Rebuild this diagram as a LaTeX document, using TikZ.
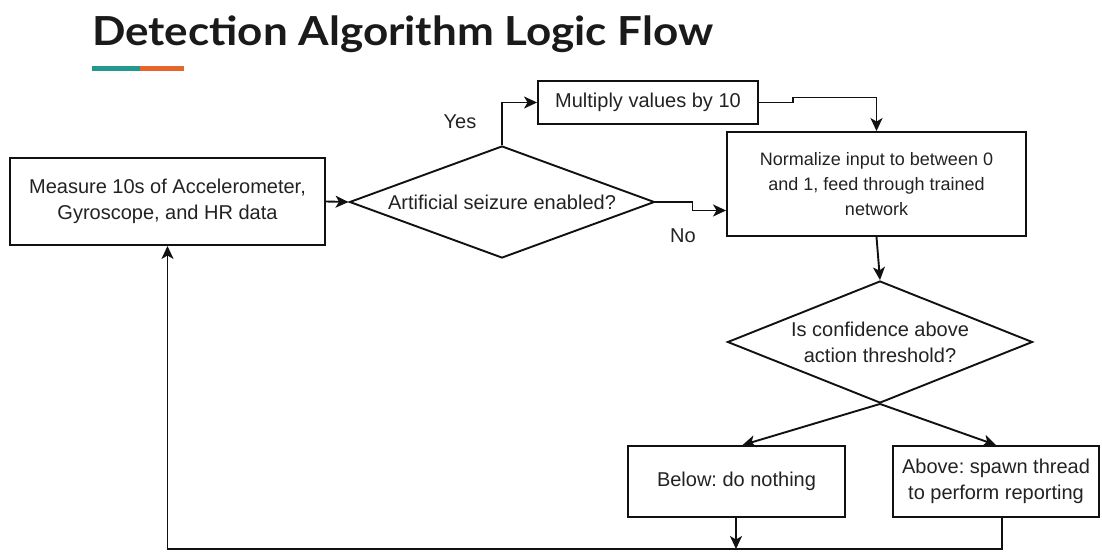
\documentclass[tikz,border=0pt]{standalone}
\usepackage{fontspec}
\setmainfont{Liberation Sans}
\newfontfamily\titlefont{Lato}
\usetikzlibrary{shapes.geometric,arrows.meta,calc}
\definecolor{linec}{HTML}{111111}
\definecolor{textc}{HTML}{222222}
\definecolor{titlec}{HTML}{1A1A1A}
\definecolor{barteal}{HTML}{23988C}
\definecolor{barorange}{HTML}{E5652A}
\frenchspacing
\begin{document}
\begin{tikzpicture}[x=1pt,y=-1pt,
  txt/.style={font=\fontsize{20}{26}\selectfont, text=textc},
  small/.style={font=\fontsize{18}{25}\selectfont},
  box/.style={txt, draw=linec, line width=1.9pt, rectangle, align=center, inner sep=0pt},
  decision/.style={txt, draw=linec, line width=1.9pt, diamond, aspect=2.6, align=center, inner sep=0pt},
  flow/.style={draw=linec, line width=1.9pt, -{Stealth[length=13pt,width=12pt,inset=3.5pt]}},
  link/.style={draw=linec, line width=1.9pt}]
\useasboundingbox (0,0) rectangle (1102,554);

% heading and accent bar
\node[anchor=base west, inner sep=0pt, text=titlec,
      font=\titlefont\bfseries\fontsize{40}{44}\selectfont] (title) at (92,45)
  {\scalebox{1.10}[1]{Detection Algorithm Logic Flow}};
\fill[barteal] (92,66) rectangle (140,71);
\fill[barorange] (140,66) rectangle (184,71);

% process steps
\node[box, minimum width=315pt, minimum height=87pt] (measure) at (167.5,201.5)
  {Measure 10s of Accelerometer,\\Gyroscope, and HR data};
\node[decision, minimum width=305pt, minimum height=112pt] (seizure) at (502,202)
  {Artificial seizure enabled?};
\node[box, minimum width=220pt, minimum height=43pt] (mult) at (648,102.5)
  {Multiply values by 10};
\node[box, small, minimum width=299pt, minimum height=104pt] (norm) at (876.5,184)
  {Normalize input to between 0\\and 1, feed through trained\\network};
\node[decision, minimum width=305pt, minimum height=122pt] (conf) at (880,342)
  {Is confidence above\\action threshold?};
\node[box, minimum width=217pt, minimum height=71pt] (below) at (736.5,481.5)
  {Below: do nothing};
\node[box, minimum width=206pt, minimum height=71pt] (above) at (996,481.5)
  {Above: spawn thread\\to perform reporting};

% branch labels
\node[txt] (yes) at (460,122) {Yes};
\node[txt] (no) at (683,236) {No};

% connectors
\draw[flow] (measure.east) -- (seizure.west);
\draw[flow] (seizure.north) |- (mult.west);
\draw[flow] (mult.east) -- ++(34,0) -- ++(0,-5) -| (norm.north);
\draw[flow] (seizure.east) -- ++(37,0) |- ($(norm.south west)!0.25!(norm.north west)$);
\draw[flow] (norm.south) -- (conf.north);
\draw[flow] (conf.south) -- ([xshift=6pt]below.north);
\draw[flow] (conf.south) -- (above.north);

% return loop
\coordinate (join) at (736,549);
\draw[flow] (below.south -| join) -- (join);
\draw[link] ([xshift=6pt]above.south) |- (join);
\draw[flow] (join) -| (measure.south);
\end{tikzpicture}
\end{document}
